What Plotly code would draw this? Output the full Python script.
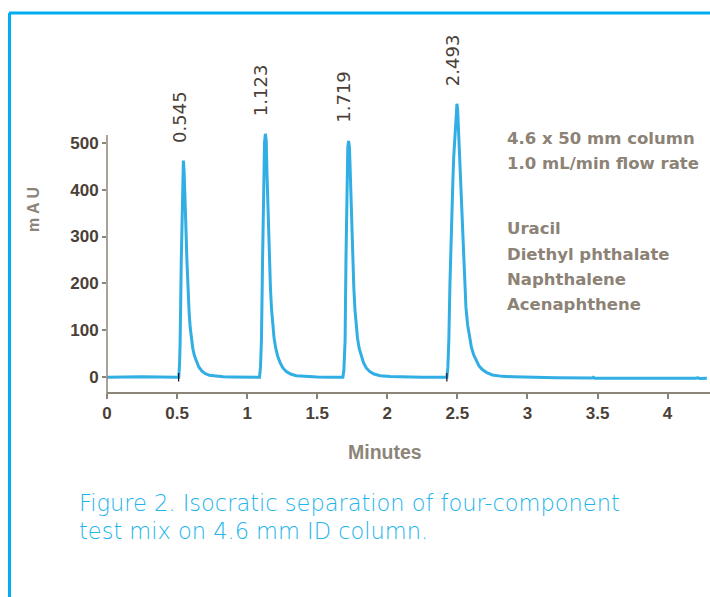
import plotly.graph_objects as go

# ---------------- data ----------------
time_min = [
    0.0, 0.25, 0.505,
    0.512, 0.518, 0.522, 0.530, 0.538, 0.545, 0.550, 0.555, 0.562, 0.570, 0.578, 0.586,
    0.594, 0.602, 0.612, 0.624, 0.638, 0.655, 0.675, 0.700, 0.730, 0.770, 0.830, 0.900,
    1.000, 1.080,
    1.088, 1.095, 1.102, 1.110, 1.117, 1.124, 1.130, 1.136, 1.142, 1.150, 1.158, 1.166,
    1.174, 1.182, 1.192, 1.204, 1.218, 1.235, 1.255, 1.280, 1.310, 1.350, 1.420, 1.500,
    1.600, 1.676,
    1.683, 1.690, 1.699, 1.705, 1.711, 1.718, 1.724, 1.730, 1.737, 1.745, 1.753, 1.761,
    1.769, 1.777, 1.787, 1.799, 1.813, 1.830, 1.850, 1.875, 1.905, 1.950, 2.020, 2.100,
    2.250, 2.418,
    2.425, 2.432, 2.439, 2.447, 2.455, 2.462, 2.468, 2.474, 2.480, 2.487, 2.493, 2.497,
    2.502, 2.508, 2.515, 2.522, 2.530, 2.540, 2.550, 2.561, 2.573, 2.586, 2.600, 2.616,
    2.634, 2.655, 2.680, 2.710, 2.750, 2.820, 2.900, 3.000, 3.200, 3.460, 3.470, 3.480,
    3.700, 4.000, 4.200, 4.215, 4.230, 4.280,
]
absorbance_mau = [
    0, 1, 0,
    0, 30, 79, 250, 400, 462, 440, 405, 330, 250, 185, 138,
    105, 82, 62, 46, 33, 22, 14, 8, 4.5, 2.5, 1, 0.5,
    0, 0,
    0, 20, 79, 250, 420, 500, 519, 505, 430, 335, 255, 192,
    145, 112, 84, 62, 45, 31, 20, 12, 7, 3.5, 1.5, 0.5,
    0, 0,
    0, 15, 79, 250, 420, 490, 504, 490, 425, 335, 255, 192,
    145, 112, 84, 62, 45, 31, 20, 12, 7, 3.5, 1.5, 0.5,
    0, 0,
    0, 20, 79, 200, 300, 370, 420, 470, 500, 535, 570, 583,
    570, 525, 470, 415, 345, 270, 205, 150, 112, 84, 64, 48,
    35, 24, 16, 10, 5, 2, 1, 0, -1, -1.5, 0, -2,
    -1.5, -2, -2, -1, -2.5, -2,
]

peak_times = [0.545, 1.123, 1.719, 2.493]
peak_heights = [462, 519, 504, 583]
peak_labels = ["0.545", "1.123", "1.719", "2.493"]

integration_marks = [0.511, 2.425]

x_tick_vals = [0, 0.5, 1, 1.5, 2, 2.5, 3, 3.5, 4]
x_tick_text = ["0", "0.5", "1", "1.5", "2", "2.5", "3", "3.5", "4"]
y_tick_vals = [0, 100, 200, 300, 400, 500]
y_tick_text = ["0", "100", "200", "300", "400", "500"]

method_lines = ["4.6 x 50 mm column", "1.0 mL/min flow rate"]
compound_names = ["Uracil", "Diethyl phthalate", "Naphthalene", "Acenaphthene"]
caption_lines = ["Figure 2. Isocratic separation of four-component",
                 "test mix on 4.6 mm ID column."]

# ---------------- layout geometry ----------------
W, H = 710, 597
L, R, T, B = 107, 0, 20, 205
PW, PH = W - L - R, H - T - B
X_PX_PER_MIN = 140.15
Y_PX_PER_UNIT = 0.4692
ZERO_PX = 377.3  # pixel row of 0 mAU

x_range = [0, PW / X_PX_PER_MIN]
y_range = [-(T + PH - ZERO_PX) / Y_PX_PER_UNIT, (ZERO_PX - T) / Y_PX_PER_UNIT]


def px(xp):
    return (xp - L) / PW


def py(yp):
    return (T + PH - yp) / PH


AXIS_COL = "#8c8478"
TICK_COL = "#4a4037"
TRACE_COL = "#31aee3"
BLUE = "#00aeef"
TEXT_COL = "#8c8276"

fig = go.Figure()
fig.add_trace(go.Scatter(
    x=time_min, y=absorbance_mau, mode="lines",
    line=dict(color=TRACE_COL, width=3), hoverinfo="skip", showlegend=False,
))
fig.add_trace(go.Scatter(
    x=integration_marks, y=[0] * len(integration_marks), mode="markers",
    marker=dict(symbol="line-ns", size=6, line=dict(color="#111111", width=1.2)),
    hoverinfo="skip", showlegend=False,
))

annotations = []
for t, h, lab in zip(peak_times, peak_heights, peak_labels):
    annotations.append(dict(
        x=t, y=h, xref="x", yref="y", text=lab, showarrow=False, textangle=-90,
        xanchor="center", yanchor="bottom", xshift=-4, yshift=16,
        font=dict(family="DejaVu Sans", size=18, color=TICK_COL),
    ))

for i, line in enumerate(method_lines):
    annotations.append(dict(
        x=px(505), y=py(138 + 25 * i), xref="paper", yref="paper", text=line,
        showarrow=False, xanchor="left", yanchor="middle",
        font=dict(family="DejaVu Sans", size=16.5, color=TEXT_COL, weight=700),
    ))
for i, name in enumerate(compound_names):
    annotations.append(dict(
        x=px(505), y=py(229 + 25 * i), xref="paper", yref="paper", text=name,
        showarrow=False, xanchor="left", yanchor="middle",
        font=dict(family="DejaVu Sans", size=16.5, color=TEXT_COL, weight=700),
    ))

annotations.append(dict(
    x=px(33), y=py(210), xref="paper", yref="paper", text="m A U", textangle=-90,
    showarrow=False, xanchor="center", yanchor="middle",
    font=dict(family="Liberation Sans", size=16, color=AXIS_COL, weight=700),
))
annotations.append(dict(
    x=px(385), y=py(452), xref="paper", yref="paper", text="Minutes",
    showarrow=False, xanchor="center", yanchor="middle",
    font=dict(family="Liberation Sans", size=19.5, color=AXIS_COL, weight=700),
))
for i, line in enumerate(caption_lines):
    annotations.append(dict(
        x=px(77), y=py(503 + 28 * i), xref="paper", yref="paper", text=line,
        showarrow=False, xanchor="left", yanchor="middle",
        font=dict(family="DejaVu Sans", size=22.5, color="#22b4ea", weight=200),
    ))

shapes = [
    # y axis line (extends slightly below the x axis)
    dict(type="line", xref="paper", yref="paper", x0=0, x1=0, y0=py(397), y1=py(135),
         line=dict(color=AXIS_COL, width=1.5)),
    # blue frame
    dict(type="line", xref="paper", yref="paper", x0=px(9), x1=px(712), y0=py(13), y1=py(13),
         line=dict(color=BLUE, width=3)),
    dict(type="line", xref="paper", yref="paper", x0=px(9.5), x1=px(9.5), y0=py(13), y1=py(600),
         line=dict(color=BLUE, width=3)),
]

fig.update_layout(
    width=W, height=H, margin=dict(l=L, r=R, t=T, b=B),
    paper_bgcolor="white", plot_bgcolor="white",
    annotations=annotations, shapes=shapes,
    xaxis=dict(range=x_range, tickvals=x_tick_vals, ticktext=x_tick_text,
               showgrid=False, zeroline=False, showline=True, linecolor=AXIS_COL,
               linewidth=1.5, ticks="outside", ticklen=5, tickwidth=1.5, tickcolor=AXIS_COL,
               tickfont=dict(family="Liberation Sans", size=17, color=TICK_COL, weight=700)),
    yaxis=dict(range=y_range, tickvals=y_tick_vals, ticktext=y_tick_text,
               showgrid=False, zeroline=False, showline=False,
               ticks="outside", ticklen=4, tickwidth=1.5, tickcolor=AXIS_COL,
               tickfont=dict(family="Liberation Sans", size=17, color=TICK_COL, weight=700)),
)

fig.write_html("out.html", config={"displayModeBar": False},
               post_script="document.body.style.margin='0';")
